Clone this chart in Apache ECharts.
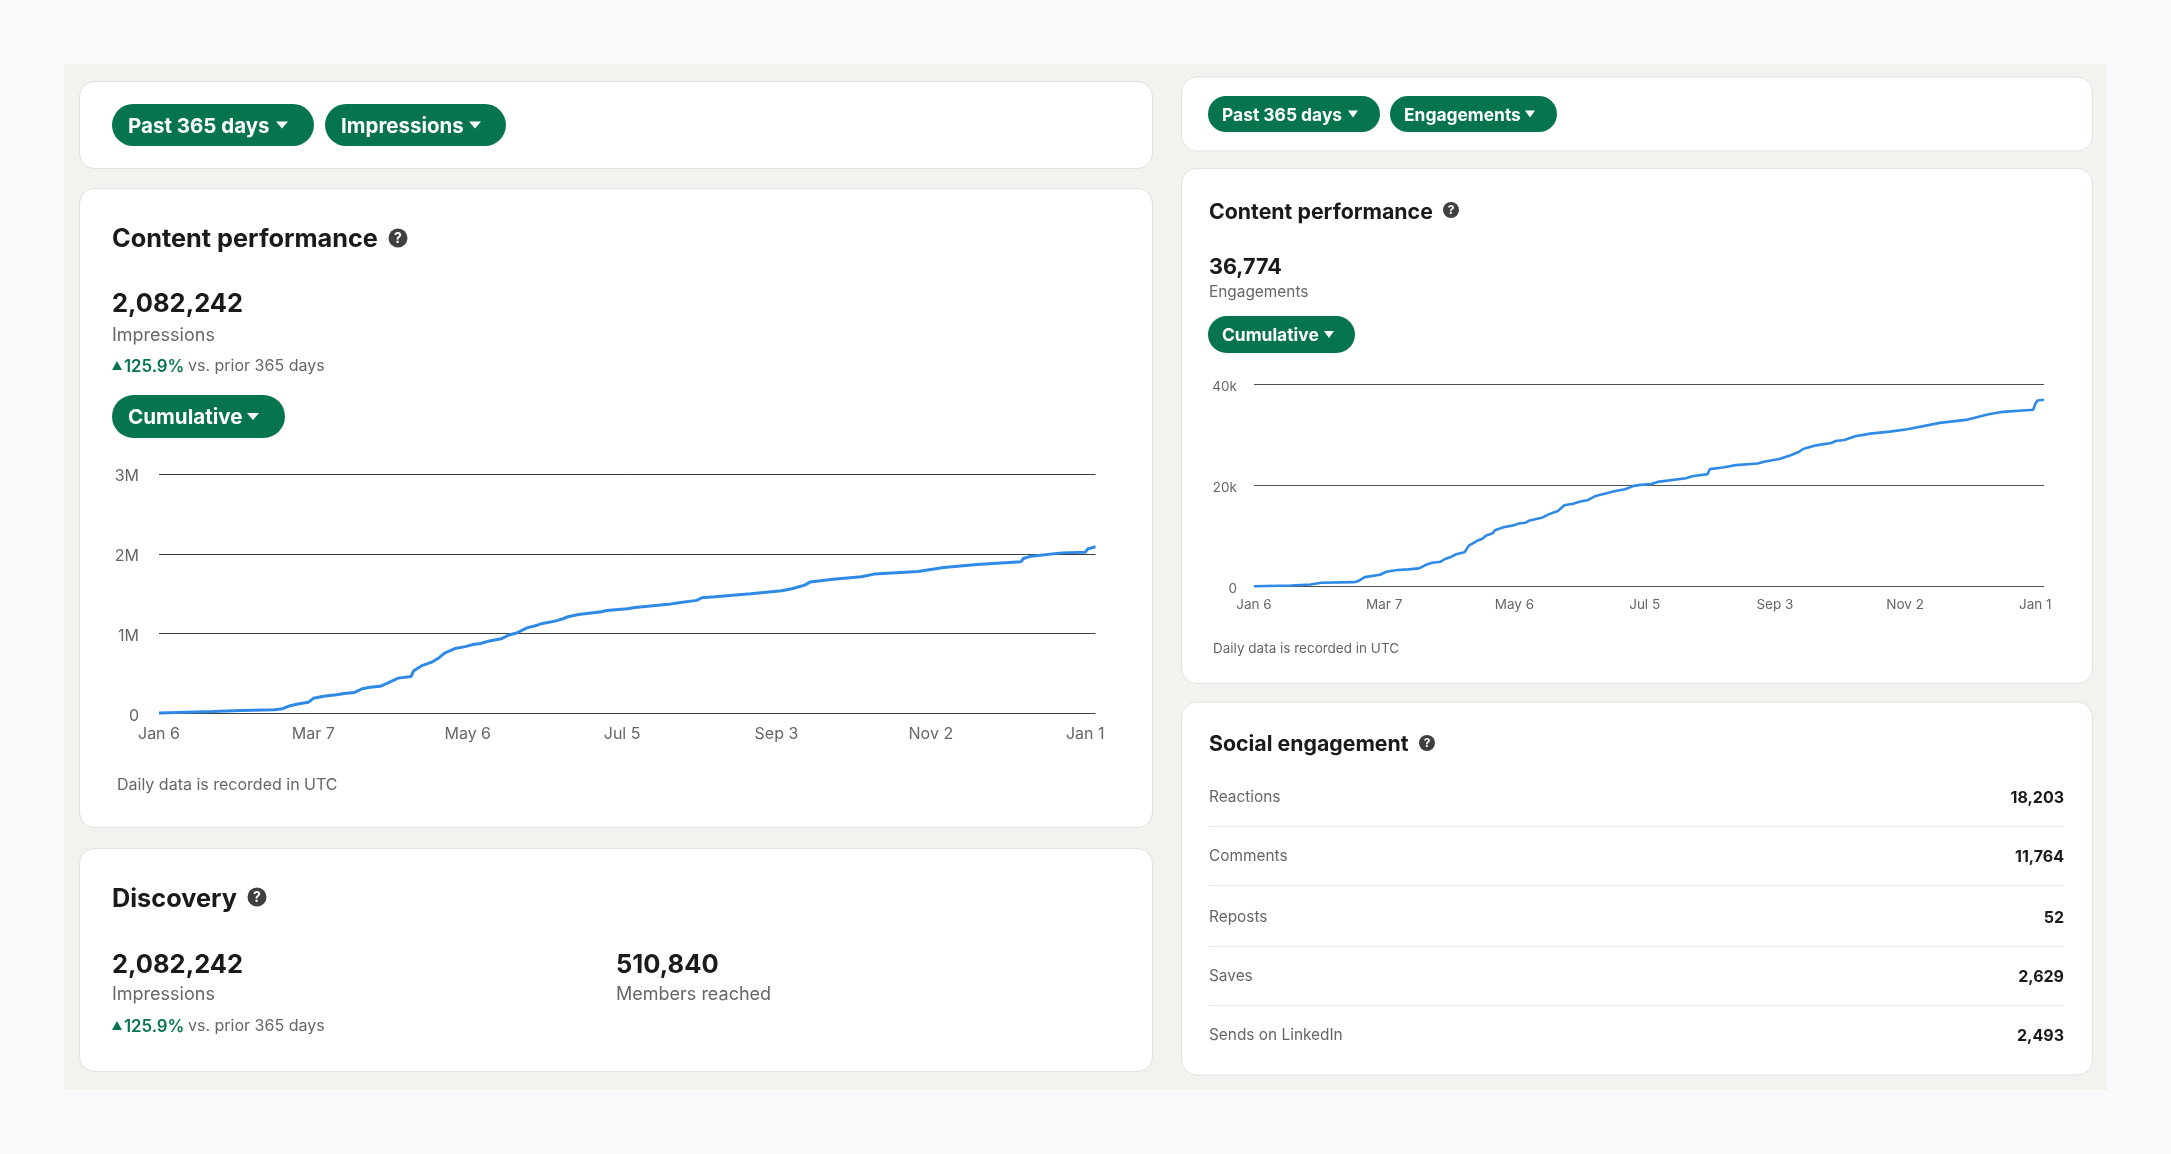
<!DOCTYPE html>
<html>
<head>
<meta charset="utf-8">
<title>Content performance</title>
<script src="https://cdn.jsdelivr.net/npm/echarts@6/dist/echarts.min.js"></script>
<style>
  html, body { margin: 0; padding: 0; background: #f8fafc; }
  #main { width: 2171px; height: 1154px; }
</style>
</head>
<body>
<div id="main"></div>
<script>
// x axis is days since Jan 6
const tickDays = [0, 60, 120, 180, 240, 300, 360]
const tickLabels = ['Jan 6', 'Mar 7', 'May 6', 'Jul 5', 'Sep 3', 'Nov 2', 'Jan 1']

const impressionTicks = { 0: '0', 1000000: '1M', 2000000: '2M', 3000000: '3M' }
const impressionDays = [0, 21, 32, 45, 48, 51, 54, 58, 60, 64, 69, 72, 76, 79, 82, 86, 89, 93, 98, 99, 102, 106, 109, 111, 115, 119, 122, 125, 128, 133, 136, 139, 143, 147, 149, 154, 157, 159, 163, 172, 174, 182, 185, 198, 202, 209, 211, 216, 230, 242, 246, 251, 253, 262, 273, 278, 295, 305, 318, 335, 336, 339, 351, 360, 361, 363, 364]
const impressionValues = [5000, 25000, 38000, 47000, 60000, 98000, 119000, 140000, 190000, 217000, 234000, 250000, 264000, 310000, 328000, 340000, 383000, 443000, 464000, 536000, 596000, 643000, 702000, 757000, 813000, 838000, 864000, 877000, 906000, 936000, 983000, 1008000, 1072000, 1106000, 1128000, 1157000, 1187000, 1212000, 1240000, 1275000, 1290000, 1312000, 1329000, 1367000, 1388000, 1417000, 1450000, 1462000, 1500000, 1537000, 1562000, 1608000, 1646000, 1683000, 1712000, 1746000, 1779000, 1829000, 1867000, 1900000, 1942000, 1971000, 2012000, 2020000, 2062000, 2080000, 2088000]

const engagementTicks = { 0: '0', 20000: '20k', 40000: '40k' }
const engagementDays = [0, 17, 26, 31, 46, 48, 51, 54, 58, 61, 66, 71, 76, 79, 82, 86, 88, 91, 93, 97, 99, 103, 105, 107, 110, 111, 115, 120, 122, 125, 127, 133, 136, 140, 143, 147, 150, 154, 157, 166, 171, 175, 178, 183, 186, 199, 202, 209, 210, 216, 222, 232, 235, 242, 247, 251, 253, 259, 266, 268, 272, 277, 284, 293, 301, 316, 328, 338, 345, 359, 360, 361, 364]
const engagementValues = [50, 200, 400, 730, 860, 1060, 1850, 2050, 2320, 2910, 3250, 3380, 3580, 4240, 4700, 4900, 5430, 5890, 6360, 6750, 8080, 9070, 9400, 10070, 10530, 11130, 11720, 12120, 12450, 12580, 13050, 13640, 14300, 14900, 16030, 16360, 16750, 17090, 17810, 18810, 19200, 19870, 20070, 20240, 20660, 21390, 21790, 22190, 23180, 23510, 23970, 24300, 24640, 25170, 25890, 26560, 27150, 27880, 28340, 28740, 28940, 29670, 30200, 30600, 31060, 32320, 32910, 33970, 34500, 34900, 36090, 36750, 36900]

const socialLabels = ['Reactions', 'Comments', 'Reposts', 'Saves', 'Sends on LinkedIn']
const socialValues = ['18,203', '11,764', '52', '2,629', '2,493']

const FONT = 'Inter, "Noto Sans", sans-serif'
const GREEN = '#06754e'
const INK = '#1a1a1a'
const MUTED = '#666666'

let items = []

const rect = (x, y, w, h, r, fill, stroke) => items.push({
  type: 'rect', z: -10,
  shape: { x, y, width: w, height: h, r },
  style: { fill, stroke: stroke || null, lineWidth: 1 },
  silent: true
})

// Inter sits a bit high against the original font
const text = (x, y, str, size, weight, fill, align) => items.push({
  type: 'text', z: -5,
  style: { x, y: y + (weight > 400 ? 1.5 : 0.5), text: str, fill, font: `${weight} ${size}px ${FONT}`, align: align || 'left', verticalAlign: 'middle' },
  silent: true
})

const tri = (x, y, w, h, fill, up) => items.push({
  type: 'polygon', z: -5,
  shape: { points: up ? [[x, y + h], [x + w, y + h], [x + w / 2, y]] : [[x, y], [x + w, y], [x + w / 2, y + h]] },
  style: { fill },
  silent: true
})

const card = (x, y, w, h) => rect(x, y, w, h, 15, '#ffffff', '#e2e1dd')

// green dropdown button
const pill = (x, y, w, h, label, size, pad, arrowX, arrowW) => {
  rect(x, y, w, h, h / 2, GREEN)
  text(x + pad, y + h / 2, label, size, 700, '#ffffff')
  tri(arrowX, y + h / 2 - 3.5, arrowW, 7, '#ffffff')
}

const help = (x, y, r, size) => {
  items.push({ type: 'circle', z: -5, shape: { cx: x, cy: y, r }, style: { fill: '#404040' }, silent: true })
  text(x, y - 1, '?', size, 700, '#ffffff', 'center')
}

const delta = (x, y) => {
  tri(x, y - 4, 10, 9, GREEN, true)
  text(x + 12, y, '125.9%', 16.8, 600, GREEN)
  text(x + 76, y + 1, 'vs. prior 365 days', 16, 400, MUTED)
}

// page chrome
rect(64, 64, 2043, 1026, 0, '#f3f2ef')

// left column
card(79.5, 81.5, 1073, 87)
pill(112, 104, 202, 42, 'Past 365 days', 20.5, 16, 276, 12)
pill(325, 104, 181, 42, 'Impressions', 20.5, 16, 469, 12)

card(79.5, 188.5, 1073, 639)
text(112, 238, 'Content performance', 25.3, 700, INK)
help(398, 238, 9.5, 14)
text(112, 303, '2,082,242', 25.5, 700, INK)
text(112, 335, 'Impressions', 18, 400, MUTED)
delta(112, 365)
pill(112, 395, 173, 43, 'Cumulative', 20.6, 16, 247, 12)
text(117, 785, 'Daily data is recorded in UTC', 16, 400, MUTED)

card(79.5, 848.5, 1073, 223)
text(112, 898, 'Discovery', 25.3, 700, INK)
help(257, 897, 9.5, 14)
text(112, 964, '2,082,242', 25.5, 700, INK)
text(112, 994, 'Impressions', 18, 400, MUTED)
delta(112, 1025)
text(616, 964, '510,840', 25.5, 700, INK)
text(616, 994, 'Members reached', 18, 400, MUTED)

// right column
card(1181.5, 77, 911, 74)
pill(1208, 96, 172, 36, 'Past 365 days', 17.4, 14, 1348, 10)
pill(1390, 96, 167, 36, 'Engagements', 17.4, 14, 1525, 10)

card(1181.5, 168.5, 911, 515)
text(1209, 211, 'Content performance', 21.3, 700, INK)
help(1451, 210, 8, 12)
text(1209, 266, '36,774', 21.6, 700, INK)
text(1209, 292, 'Engagements', 15.4, 400, MUTED)
pill(1208, 316, 147, 37, 'Cumulative', 17.4, 14, 1324, 10)
text(1213, 648, 'Daily data is recorded in UTC', 13.5, 400, MUTED)

card(1181.5, 702, 911, 373)
text(1209, 743, 'Social engagement', 21.3, 700, INK)
help(1427, 743, 8, 12)

const rowY = [797, 856, 917, 976, 1035]
const ruleY = [826, 885, 946, 1005]
socialLabels.forEach((label, i) => {
  text(1209, rowY[i], label, 15.4, 400, MUTED)
  text(2064, rowY[i], socialValues[i], 16, 700, INK, 'right')
})
ruleY.forEach(y => rect(1209, y, 855, 1, 0, '#e8e8e6'))

const xAxis = (gridIndex, size, margin) => ({
  type: 'value', gridIndex, min: 0, max: 364,
  axisLine: { show: false },
  axisTick: { show: false },
  splitLine: { show: false },
  axisLabel: {
    customValues: tickDays,
    color: MUTED,
    fontFamily: FONT,
    fontSize: size,
    margin,
    formatter: v => tickLabels[tickDays.indexOf(v)] || ''
  }
})

const yAxis = (gridIndex, max, interval, ticks, size, margin, lineColor) => ({
  type: 'value', gridIndex, min: 0, max, interval,
  axisLine: { show: false },
  axisTick: { show: false },
  splitLine: { lineStyle: { color: lineColor, width: 1 } },
  axisLabel: {
    color: MUTED,
    fontFamily: FONT,
    fontSize: size,
    margin,
    // push the labels down a little off the grid lines
    formatter: v => `{t|${ticks[v]}}`,
    rich: { t: { padding: [5, 0, 0, 0], fontSize: size, fontFamily: FONT, color: MUTED } }
  }
})

const lineSeries = (index, days, values, width) => ({
  type: 'line',
  xAxisIndex: index,
  yAxisIndex: index,
  data: days.map((d, i) => [d, values[i]]),
  showSymbol: false,
  clip: false,
  lineStyle: { color: '#2f8ae6', width },
  silent: true,
  animation: false
})

let chart = echarts.init(document.querySelector('#main'))

chart.setOption({
  animation: false,
  backgroundColor: '#f8fafc',
  graphic: { elements: items },
  grid: [
    { left: 159, right: 2171 - 1095.5, top: 474, bottom: 1154 - 713.5 },
    { left: 1254, right: 2171 - 2044, top: 384, bottom: 1154 - 586.5 }
  ],
  xAxis: [xAxis(0, 16, 13), xAxis(1, 13.5, 11)],
  yAxis: [
    yAxis(0, 3000000, 1000000, impressionTicks, 16, 20, '#3c3c3c'),
    yAxis(1, 40000, 20000, engagementTicks, 13.5, 17, '#505050')
  ],
  series: [
    lineSeries(0, impressionDays, impressionValues, 3),
    lineSeries(1, engagementDays, engagementValues, 2.6)
  ]
})
</script>
</body>
</html>
